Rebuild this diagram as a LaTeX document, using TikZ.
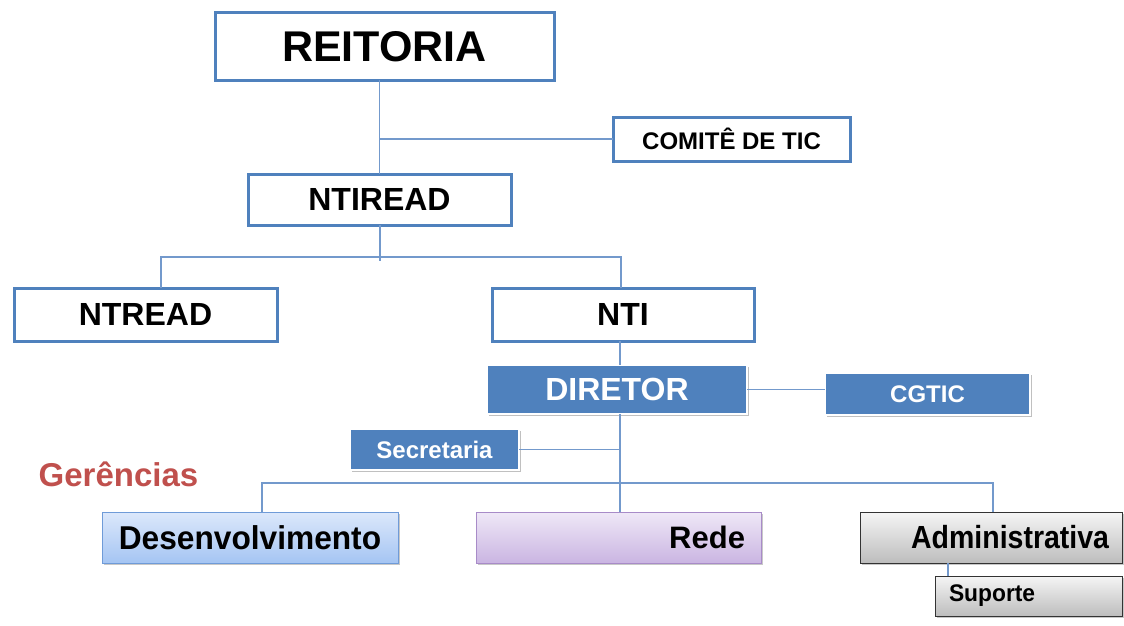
\documentclass[tikz,border=0pt]{standalone}
\usepackage{fontspec}
\usepackage{graphicx}
\setmainfont{Liberation Sans}
\usetikzlibrary{shadows}
\definecolor{bl}{HTML}{4F81BD}
\definecolor{ln}{HTML}{7399CC}
\definecolor{redt}{HTML}{C0504D}
\definecolor{desD}{HTML}{6F9BD8}
\definecolor{desT}{HTML}{DCE8FB}
\definecolor{desB}{HTML}{A5C5F3}
\definecolor{redD}{HTML}{A88BC8}
\definecolor{redT}{HTML}{EFE8F7}
\definecolor{redB}{HTML}{CAB5E2}
\definecolor{gryT}{HTML}{F5F5F5}
\definecolor{gryB}{HTML}{BDBDBD}
\newcommand\myfs[1]{\fontsize{#1}{#1}\selectfont\bfseries}
\tikzset{
  wbox/.style={draw=bl, line width=3pt, fill=white, inner sep=0pt, outer sep=0pt},
  fbox/.style={draw=white, line width=2.5pt, fill=bl, text=white, inner sep=0pt, outer sep=0pt,
    drop shadow={shadow xshift=1.5pt, shadow yshift=-2pt, opacity=0.35, fill=black!70}},
  gbox/.style={line width=1pt, inner sep=0pt, outer sep=0pt,
    drop shadow={shadow xshift=1.5pt, shadow yshift=-2pt, opacity=0.3, fill=black!70}},
  conn/.style={draw=ln, line width=1.2pt},
}
\begin{document}
\begin{tikzpicture}[x=1pt,y=-1pt]
\useasboundingbox (0,0) rectangle (1124,626);
\fill[white] (0,0) rectangle (1124,626);

% top level
\node[wbox, minimum width=339, minimum height=67] (reit) at (384.5,46.5) {\myfs{43}REITORIA};
\node[wbox, minimum width=237, minimum height=44] (comite) at (731.5,139) {\myfs{24}COMITÊ DE TIC};
\node[wbox, minimum width=263, minimum height=51] (ntiread) at (379.5,199.5) {\myfs{32}NTIREAD};
\node[wbox, minimum width=263, minimum height=53] (ntread) at (145.5,314.5) {\myfs{32}NTREAD};
\node[wbox, minimum width=262, minimum height=53] (nti) at (623,314.5) {\myfs{32}NTI};

% director level
\node[fbox, minimum width=260, minimum height=49] (dir) at (617,389.5) {\myfs{32}DIRETOR};
\node[fbox, minimum width=205, minimum height=42] (cgtic) at (927.5,394) {\myfs{24}CGTIC};
\node[fbox, minimum width=169, minimum height=41] (sec) at (434.5,449.5) {\myfs{24}Secretaria};

\node[text=redt, inner sep=0pt] (ger) at (118.5,474) {\myfs{33}Gerências};

% managements
\node[gbox, draw=desD, top color=desT, bottom color=desB,
      minimum width=296, minimum height=51] (des) at (250,537.5)
      {\myfs{33}\scalebox{0.96}[1]{Desenvolvimento}};
\node[gbox, draw=redD, top color=redT, bottom color=redB,
      minimum width=285, minimum height=51, text width=253, align=right] (rede) at (618.5,537.5)
      {\myfs{31}Rede};
\node[gbox, draw=black!80, top color=gryT, bottom color=gryB,
      minimum width=262, minimum height=51, text width=236, align=right] (adm) at (991,537.5)
      {\myfs{32}\scalebox{0.89}[1]{Administrativa}};
\node[gbox, draw=black!80, top color=gryT, bottom color=gryB,
      minimum width=187, minimum height=40, text width=159, align=left] (sup) at (1028.5,596)
      {\myfs{24}\scalebox{0.95}[1]{Suporte}};

% connectors
\coordinate (j1) at (380,257);
\coordinate (j2) at (620,483);
\coordinate (j3) at (948,0);
\draw[conn] (reit.south -| ntiread.north) -- (ntiread.north);
\draw[conn] (comite.west) -- (comite.west -| ntiread.north);
\draw[conn] (ntiread.south -| j1) -- ([yshift=-4pt]j1);
\draw[conn] ([xshift=15.5pt]ntread.north) -- ([xshift=15.5pt]ntread.north |- j1) -- ([xshift=-2pt]nti.north |- j1) -- ([xshift=-2pt]nti.north);
\draw[conn] ([xshift=-3pt]nti.south) -- (dir.north -| j2);
\draw[conn] (dir.east) -- (cgtic.west |- dir.east);
\draw[conn] (dir.south -| j2) -- (rede.north -| j2);
\draw[conn] (sec.east) -- (sec.east -| j2);
\draw[conn] ([xshift=12pt]des.north) -- ([xshift=12pt]des.north |- j2) -- ([xshift=2pt]adm.north |- j2) -- ([xshift=2pt]adm.north);
\draw[conn] (sup.north -| j3) -- (adm.south -| j3);
\end{tikzpicture}
\end{document}
